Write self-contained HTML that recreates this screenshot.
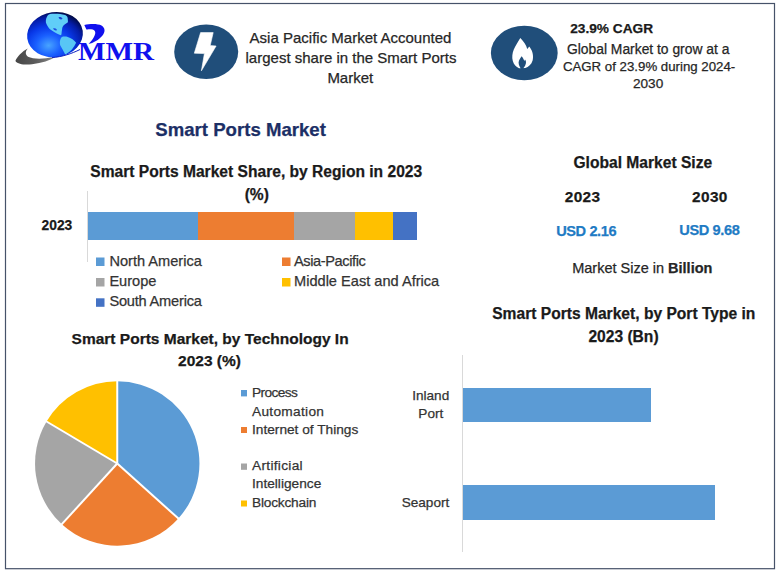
<!DOCTYPE html>
<html><head><meta charset="utf-8">
<style>
html,body{margin:0;padding:0;background:#fff;}
body{width:777px;height:572px;position:relative;overflow:hidden;font-family:"Liberation Sans", sans-serif;}
.t{position:absolute;white-space:nowrap;line-height:normal;-webkit-text-stroke:0.25px currentColor;}
.logo{position:absolute;left:77.8px;top:0;font-family:"Liberation Serif", serif;font-weight:700;font-size:26px;color:#1010ee;transform-origin:0 0;}
</style></head><body>
<svg width="777" height="572" viewBox="0 0 777 572" style="position:absolute;left:0;top:0">
<rect x="5.5" y="3.5" width="769" height="565.2" fill="#fff" stroke="#465269" stroke-width="1.2"/>
<!-- icons -->
<ellipse cx="206.2" cy="51.8" rx="32" ry="27.3" fill="#204e7a"/>
<path d="M200.6,32.6 L213.2,32.6 L210.2,45.6 L216.1,46 L201.4,70.8 L204.4,53.6 L194.3,53.2 Z" fill="#fff" stroke="#fff" stroke-width="0.6" stroke-linejoin="round"/>
<ellipse cx="524.3" cy="53" rx="33.4" ry="27.3" fill="#204e7a"/>
<path d="M520.3,38 C518.5,41 515.5,45.5 513.8,49.5 C512.3,53 511.8,57.5 512.8,61 C513.8,64.5 516.2,67 519,68.2 L525.3,68 C528.5,66.8 531.5,64.5 532.6,60.5 C533.6,56.5 533,51.5 529.8,47.2 C529.3,46.6 528.9,46.9 528.7,47.2 L527.2,49 C526.5,45.5 523.8,41.5 520.3,38 Z" fill="#fff"/>
<path d="M521.6,56.2 C520.3,58 518.8,60 518.6,62.5 C518.5,65 520,67 521,69 L522.5,69 C524.5,67 526.2,64.5 526,62 C525.9,61 525.5,60.2 525,59.6 L524.3,61 C523.8,59.2 522.8,57.5 521.6,56.2 Z" fill="#204e7a"/>
<!-- region bar -->
<line x1="87.5" y1="191" x2="87.5" y2="262" stroke="#d9d9d9" stroke-width="1"/>
<rect x="88" y="212" width="110" height="28" fill="#5b9bd5"/>
<rect x="198" y="212" width="96" height="28" fill="#ed7d31"/>
<rect x="294" y="212" width="61" height="28" fill="#a5a5a5"/>
<rect x="355" y="212" width="38" height="28" fill="#ffc000"/>
<rect x="393" y="212" width="24" height="28" fill="#4472c4"/>
<rect x="96" y="257.5" width="8.5" height="8.5" fill="#5b9bd5"/>
<rect x="96" y="278" width="8.5" height="8.5" fill="#a5a5a5"/>
<rect x="96" y="298.3" width="8.5" height="8.5" fill="#4472c4"/>
<rect x="282" y="257.5" width="8.5" height="8.5" fill="#ed7d31"/>
<rect x="282" y="278" width="8.5" height="8.5" fill="#ffc000"/>
<!-- pie -->
<path d="M117.25,463.5 L117.25,381.30 A82.2,82.2 0 0 1 178.34,518.50 Z" fill="#5b9bd5"/><path d="M117.25,463.5 L178.34,518.50 A82.2,82.2 0 0 1 61.82,524.20 Z" fill="#ed7d31"/><path d="M117.25,463.5 L61.82,524.20 A82.2,82.2 0 0 1 46.57,421.53 Z" fill="#a5a5a5"/><path d="M117.25,463.5 L46.57,421.53 A82.2,82.2 0 0 1 117.25,381.30 Z" fill="#ffc000"/><line x1="117.25" y1="463.5" x2="117.25" y2="379.30" stroke="#fff" stroke-width="2"/><line x1="117.25" y1="463.5" x2="179.82" y2="519.84" stroke="#fff" stroke-width="2"/><line x1="117.25" y1="463.5" x2="60.47" y2="525.68" stroke="#fff" stroke-width="2"/><line x1="117.25" y1="463.5" x2="44.85" y2="420.51" stroke="#fff" stroke-width="2"/>
<rect x="241" y="390" width="6" height="6.4" fill="#5b9bd5"/>
<rect x="241" y="427" width="6" height="6" fill="#ed7d31"/>
<rect x="241" y="463.5" width="6" height="6.3" fill="#a5a5a5"/>
<rect x="241" y="500.5" width="6" height="6" fill="#ffc000"/>
<!-- port bars -->
<line x1="462.5" y1="355" x2="462.5" y2="552" stroke="#d9d9d9" stroke-width="1"/>
<rect x="463" y="388" width="188" height="34" fill="#5b9bd5"/>
<rect x="463" y="485" width="252" height="35" fill="#5b9bd5"/>
<!-- logo -->
<defs>
<radialGradient id="gl" cx="0.36" cy="0.7" r="0.8" fx="0.36" fy="0.72">
<stop offset="0" stop-color="#48a4ff"/><stop offset="0.28" stop-color="#1a60ff"/><stop offset="0.52" stop-color="#0838e8"/><stop offset="0.75" stop-color="#041ca8"/><stop offset="0.9" stop-color="#000c50"/><stop offset="1" stop-color="#000418"/>
</radialGradient>
<linearGradient id="sw" x1="0" y1="0" x2="1" y2="0">
<stop offset="0" stop-color="#464646"/><stop offset="0.5" stop-color="#5c5c5c"/><stop offset="1" stop-color="#8a8a8a"/>
</linearGradient>
</defs>
<path d="M15.4,61 C17,57 22,51.5 27.8,48.6 C25.5,51 24.8,54.5 28,56.8 C32,58.8 40,59 46,58.2 C50,57.8 53,57.3 56,56.8 C50,60.5 42,63 32,64.3 C25,65 18,64.5 15.4,61 Z" fill="url(#sw)"/>
<ellipse cx="55" cy="34.6" rx="28" ry="22.6" transform="rotate(-8 55 34.6)" fill="url(#gl)"/>
<path d="M48,15 C49.5,14 51,13.7 52.6,13.8 C56,13.5 61,13.8 65.2,15 C66.8,16 67.8,17 67.7,18.4 C67.8,20 68.2,21.5 67.7,22.6 C65.5,24 63.5,25.2 62.7,26.8 C62,28.2 62.2,29.8 61.8,31 C61.5,32.5 61.8,34 61,35.2 C59.5,34.8 58.2,34.2 56.8,33.5 C55.2,32.8 53.8,32 52.6,31 C51.2,30.2 50,29.5 49.2,28.5 C47.8,26.8 46.5,24.5 45.9,22.6 C45.5,20 46.5,17 48,15 Z" fill="#60cef8"/>
<path d="M58.5,17.2 C60,16.5 62,17.2 62.5,18.6 C61.5,20 59.5,19.8 58.5,17.2 Z" fill="#1a40d0"/>
<path d="M53,28.6 C54.5,28 56.5,28.6 57,30 C56,31 54,30.6 53,28.6 Z" fill="#2050e0"/>
<path d="M61.8,36.9 C63.8,36.5 65.8,36.5 67.7,36.9 C71,37.8 74.5,40.2 76.1,42.7 C75,45.3 73.6,47.5 71.9,49.5 C70,51.5 67.5,53.3 65.2,54.5 C63.5,51.5 62,48.3 60.2,45.3 C59.6,43 59.8,40.8 60.5,39 C60.8,38.2 61.2,37.5 61.8,36.9 Z" fill="#58c6f5"/>
<path d="M52,57.5 C62,57 72,53.5 80,49.5" fill="none" stroke="#1020c0" stroke-width="1"/>
<path d="M84.3,25 C90,23.5 98,23.5 101.5,25.5 C105.5,28 105.3,32 102.5,35.5 C99,40 93,43 88.6,44.1 C91.5,41 95,36.5 95.3,33 C95.5,30.5 93.5,29.2 91,29.2 C89.5,29.2 87.5,29.4 86.4,29.6 Z" fill="#1010ee"/>
</svg>
<div class="logo" style="top:37.03px;transform:scaleX(1.12)">MMR</div>
<div class="t" style="left:50.50px;width:600px;text-align:center;top:29.12px;font-size:15px;font-weight:400;color:#262626;">Asia Pacific Market Accounted</div>
<div class="t" style="left:51.00px;width:600px;text-align:center;top:48.92px;font-size:15px;font-weight:400;color:#262626;">largest share in the Smart Ports</div>
<div class="t" style="left:50.30px;width:600px;text-align:center;top:68.72px;font-size:15px;font-weight:400;color:#262626;">Market</div>
<div class="t" style="left:570.20px;top:21.40px;font-size:13.7px;font-weight:700;color:#1a1a1a;">23.9% CAGR</div>
<div class="t" style="left:348.20px;width:600px;text-align:center;top:40.87px;font-size:13.85px;font-weight:400;color:#262626;">Global Market to grow at a</div>
<div class="t" style="left:349.10px;width:600px;text-align:center;top:58.61px;font-size:13.25px;font-weight:400;color:#262626;">CAGR of 23.9% during 2024-</div>
<div class="t" style="left:348.10px;width:600px;text-align:center;top:75.99px;font-size:13.6px;font-weight:400;color:#262626;">2030</div>
<div class="t" style="left:-59.40px;width:600px;text-align:center;top:118.87px;font-size:18.6px;font-weight:700;color:#1c2f66;">Smart Ports Market</div>
<div class="t" style="left:-43.80px;width:600px;text-align:center;top:163.38px;font-size:15.6px;font-weight:700;color:#1a1a1a;">Smart Ports Market Share, by Region in 2023</div>
<div class="t" style="left:-43.20px;width:600px;text-align:center;top:186.38px;font-size:15.6px;font-weight:700;color:#1a1a1a;">(%)</div>
<div class="t" style="left:41.60px;top:218.11px;font-size:13.8px;font-weight:700;color:#1a1a1a;">2023</div>
<div class="t" style="left:109.40px;top:252.79px;font-size:14.6px;font-weight:400;color:#333;">North America</div>
<div class="t" style="left:109.40px;top:272.99px;font-size:14.6px;font-weight:400;color:#333;">Europe</div>
<div class="t" style="left:109.40px;top:293.29px;font-size:14.6px;font-weight:400;color:#333;letter-spacing:-0.2px;">South America</div>
<div class="t" style="left:294.00px;top:252.79px;font-size:14.6px;font-weight:400;color:#333;letter-spacing:-0.4px;">Asia-Pacific</div>
<div class="t" style="left:294.00px;top:272.99px;font-size:14.6px;font-weight:400;color:#333;">Middle East and Africa</div>
<div class="t" style="left:342.80px;width:600px;text-align:center;top:153.88px;font-size:15.6px;font-weight:700;color:#1a1a1a;">Global Market Size</div>
<div class="t" style="left:282.60px;width:600px;text-align:center;top:187.76px;font-size:15.4px;font-weight:700;color:#1a1a1a;letter-spacing:0.35px;">2023</div>
<div class="t" style="left:409.90px;width:600px;text-align:center;top:187.76px;font-size:15.4px;font-weight:700;color:#1a1a1a;letter-spacing:0.35px;">2030</div>
<div class="t" style="left:286.20px;width:600px;text-align:center;top:222.79px;font-size:14.6px;font-weight:700;color:#1f7bc4;letter-spacing:-0.4px;">USD 2.16</div>
<div class="t" style="left:409.40px;width:600px;text-align:center;top:221.59px;font-size:14.6px;font-weight:700;color:#1f7bc4;letter-spacing:-0.4px;">USD 9.68</div>
<div class="t" style="left:342.30px;width:600px;text-align:center;top:259.98px;font-size:14.5px;font-weight:400;color:#262626;">Market Size in <b>Billion</b></div>
<div class="t" style="left:-89.90px;width:600px;text-align:center;top:329.57px;font-size:15.5px;font-weight:700;color:#1a1a1a;">Smart Ports Market, by Technology In</div>
<div class="t" style="left:-90.50px;width:600px;text-align:center;top:352.27px;font-size:15.5px;font-weight:700;color:#1a1a1a;">2023 (%)</div>
<div class="t" style="left:252.00px;top:385.20px;font-size:13.7px;font-weight:400;color:#333;letter-spacing:-0.6px;">Process</div>
<div class="t" style="left:252.00px;top:403.80px;font-size:13.7px;font-weight:400;color:#333;letter-spacing:0.3px;">Automation</div>
<div class="t" style="left:252.00px;top:421.90px;font-size:13.7px;font-weight:400;color:#333;letter-spacing:0px;">Internet of Things</div>
<div class="t" style="left:252.00px;top:457.60px;font-size:13.7px;font-weight:400;color:#333;letter-spacing:0.3px;">Artificial</div>
<div class="t" style="left:252.00px;top:475.80px;font-size:13.7px;font-weight:400;color:#333;letter-spacing:0px;">Intelligence</div>
<div class="t" style="left:252.00px;top:495.20px;font-size:13.7px;font-weight:400;color:#333;letter-spacing:-0.2px;">Blockchain</div>
<div class="t" style="left:323.80px;width:600px;text-align:center;top:305.18px;font-size:15.6px;font-weight:700;color:#1a1a1a;">Smart Ports Market, by Port Type in</div>
<div class="t" style="left:323.50px;width:600px;text-align:center;top:327.78px;font-size:15.6px;font-weight:700;color:#1a1a1a;">2023 (Bn)</div>
<div class="t" style="left:130.70px;width:600px;text-align:center;top:387.69px;font-size:13.6px;font-weight:400;color:#333;">Inland</div>
<div class="t" style="left:130.80px;width:600px;text-align:center;top:405.59px;font-size:13.6px;font-weight:400;color:#333;">Port</div>
<div class="t" style="right:327.70px;text-align:right;top:495.49px;font-size:13.6px;font-weight:400;color:#333;">Seaport</div>
</body></html>
